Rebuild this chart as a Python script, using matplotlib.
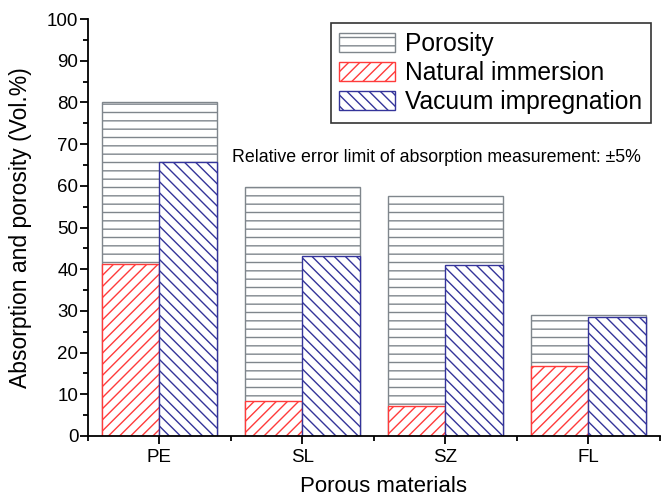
import matplotlib
matplotlib.use("Agg")
import matplotlib.pyplot as plt
import numpy as np
from matplotlib.ticker import MultipleLocator, FixedLocator

plt.rcParams['font.family'] = ['Liberation Sans', 'DejaVu Sans']
plt.rcParams['hatch.linewidth'] = 1.0

materials = ['PE', 'SL', 'SZ', 'FL']
porosity = [80.0, 59.6, 57.5, 29.1]
natural = [41.3, 8.3, 7.1, 16.7]
vacuum = [65.8, 43.2, 41.0, 28.5]

x = np.arange(1, len(materials) + 1)

fig = plt.figure(figsize=(6.69, 5.0), dpi=100)
ax = fig.add_axes([0.1315, 0.128, 0.855, 0.834])

ax.bar(x, porosity, width=0.8, facecolor='white', edgecolor='#7f868c',
       hatch='--', linewidth=1.0, label='Porosity')
ax.bar(x - 0.2, natural, width=0.4, facecolor='white', edgecolor='#ff3b3b',
       hatch='///', linewidth=1.0, label='Natural immersion')
ax.bar(x + 0.2, vacuum, width=0.4, facecolor='white', edgecolor='#34349a',
       hatch='\\\\\\', linewidth=1.0, label='Vacuum impregnation')

ax.set_xlim(0.5, 4.5)
ax.set_ylim(0, 100)
ax.set_xticks(x)
ax.set_xticklabels(materials)
ax.xaxis.set_minor_locator(FixedLocator([0.5, 1.5, 2.5, 3.5, 4.5]))
ax.yaxis.set_major_locator(MultipleLocator(10))
ax.yaxis.set_minor_locator(MultipleLocator(5))

for s in ['top', 'right']:
    ax.spines[s].set_visible(False)
for s in ['left', 'bottom']:
    ax.spines[s].set_linewidth(1.3)

ax.tick_params(which='major', direction='out', length=6, width=1.3, labelsize=13.5)
ax.tick_params(axis='y', which='major', pad=1)
ax.tick_params(axis='x', which='major', pad=3)
ax.tick_params(which='minor', direction='out', length=3.5, width=1.3)

ax.set_xlabel('Porous materials', fontsize=16)
ax.xaxis.set_label_coords(0.517, -0.097)
ax.set_ylabel('Absorption and porosity (Vol.%)', fontsize=16.5, labelpad=11)

ax.text(0.252, 0.669, 'Relative error limit of absorption measurement: \u00b15%',
        transform=ax.transAxes, fontsize=12.8, va='center', ha='left')

leg = ax.legend(loc='upper right', bbox_to_anchor=(0.984, 0.99), fontsize=17.7,
                fancybox=False, edgecolor='#333333', framealpha=1,
                handlelength=2.28, handleheight=0.78, handletextpad=0.38,
                labelspacing=0.2, borderpad=0.36, borderaxespad=0)
leg.get_frame().set_linewidth(1.2)

fig.savefig('out.png', dpi=100)
